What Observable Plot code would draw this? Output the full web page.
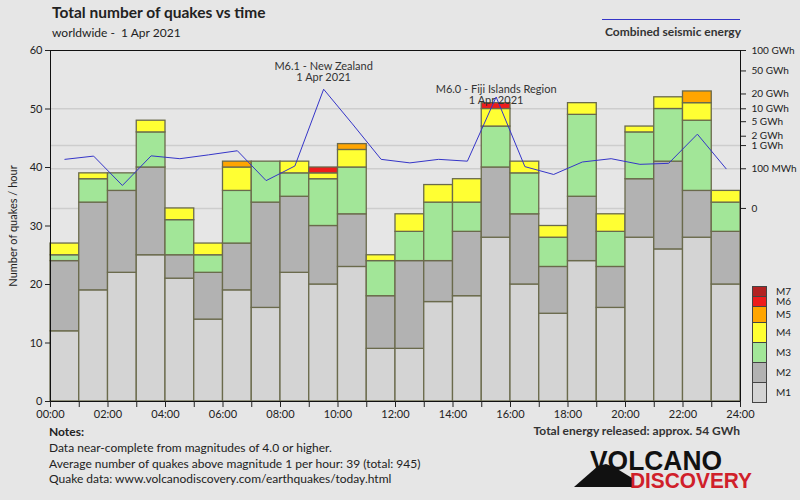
<!DOCTYPE html>
<html><head><meta charset="utf-8">
<script src="https://cdn.jsdelivr.net/npm/d3@7"></script>
<script src="https://cdn.jsdelivr.net/npm/@observablehq/plot@0.6"></script>
<style>
html,body{margin:0;padding:0;background:#e6e6e6;}
#wrap{position:relative;width:800px;height:500px;background:#e6e6e6;font-family:Lato,"Open Sans",sans-serif;color:#222;overflow:hidden;}
#chart{position:absolute;left:0;top:0;}
.abs{position:absolute;white-space:nowrap;}
.sw{position:absolute;left:752px;width:15px;box-sizing:border-box;border:1px solid #444;}
.lg{position:absolute;left:776px;font-size:10px;line-height:10px;}
.rax text{font-size:10px;}
</style></head><body>
<div id="wrap">
  <div id="chart"></div>
  <div class="abs" style="left:52px;top:3px;font-size:15.5px;font-weight:bold;">Total number of quakes vs time</div>
  <div class="abs" style="left:52px;top:25px;font-size:12px;">worldwide -&nbsp; 1 Apr 2021</div>
  <div class="abs" style="left:602px;top:19px;width:138px;height:1px;background:#3535c8;"></div>
  <div class="abs" style="right:59px;top:24px;font-size:12px;font-weight:bold;color:#333;">Combined seismic energy</div>
  <div class="abs" style="left:49px;top:424px;font-size:12px;line-height:15.8px;">
    <b>Notes:</b><br>
    Data near-complete from magnitudes of 4.0 or higher.<br>
    Average number of quakes above magnitude 1 per hour: 39 (total: 945)<br>
    Quake data: www.volcanodiscovery.com/earthquakes/today.html
  </div>
  <div class="abs" style="right:60px;top:423px;font-size:12px;font-weight:bold;color:#333;">Total energy released: approx. 54 GWh</div>
  <div id="legend"></div>
  <svg class="abs" style="left:570px;top:445px;" width="190" height="50">
    <polygon points="4,42 28,21 36,19 44,22 62,33 62,42" fill="#111"/>
    <text x="20" y="25" font-family="Liberation Sans, Arial, sans-serif" font-weight="bold" font-size="27" fill="#111" textLength="132" lengthAdjust="spacingAndGlyphs">VOLCANO</text>
    <text x="60" y="43" font-family="Liberation Sans, Arial, sans-serif" font-weight="bold" font-size="22" fill="#d0202a" textLength="122" lengthAdjust="spacingAndGlyphs">DISCOVERY</text>
  </svg>
</div>
<script>
// ---- data ----
const hours = d3.range(24);
const mags = ["M1","M2","M3","M4","M5","M6","M7"];
const magColors = ["#d4d4d4","#b2b2b2","#a2e698","#ffff33","#ffa500","#ee1c1c","#b22222"];
const m1 = [12,19,22,25,21,14,19,16,22,20,23,9,9,17,18,28,20,15,24,16,28,26,28,20];
const m2 = [12,15,14,15,4,8,8,18,13,10,9,9,15,7,11,12,12,8,11,7,10,15,8,9];
const m3 = [1,4,3,6,6,3,9,7,4,8,8,6,5,10,5,7,7,5,14,6,8,9,12,5];
const m4 = [2,1,0,2,2,2,4,0,2,1,3,1,3,3,4,3,2,2,2,3,1,2,3,2];
const m5 = [0,0,0,0,0,0,1,0,0,0,1,0,0,0,0,0,0,0,0,0,0,0,2,0];
const m6 = [0,0,0,0,0,0,0,0,0,1,0,0,0,0,0,1,0,0,0,0,0,0,0,0];
const m7 = [0,0,0,0,0,0,0,0,0,0,0,0,0,0,0,0,0,0,0,0,0,0,0,0];
// combined seismic energy per hour, GWh
const energy = [0.29,0.40,0.0065,0.41,0.31,0.45,0.65,0.017,0.14,24.5,4.4,0.29,0.20,0.29,0.24,17.5,0.13,0.046,0.22,0.31,0.17,0.19,2.3,0.10];
const energyTicks = [100,50,20,10,5,2,1,0.1,0];
const energyTickLabels = ["100 GWh","50 GWh","20 GWh","10 GWh","5 GWh","2 GWh","1 GWh","100 MWh","0"];
const energyGrid = [10,1,0.1,0];
const yTicks = [0,10,20,30,40,50,60];
const xTicks = d3.range(0,25);
const annotations = [
  {h:9, e:24.5, text:"M6.1 - New Zealand\n1 Apr 2021"},
  {h:15, e:17.5, text:"M6.0 - Fiji Islands Region\n1 Apr 2021"}
];

// ---- derived tables ----
const series = [m1,m2,m3,m4,m5,m6,m7];
const rows = [];
hours.forEach((h,i)=>{
  let acc = 0;
  series.forEach((s,k)=>{
    const v = s[i];
    if (v > 0) { rows.push({h, mag:mags[k], y1:acc, y2:acc+v}); acc += v; }
  });
});
// energy axis occupies the upper part of the count axis (pow 1/5 scale)
const E = d3.scalePow().exponent(0.2).domain([0,100]).range([33,60]);
const energyRows = hours.map((h,i)=>({h, e:energy[i]}));
const tickMap = new Map(energyTicks.map((e,i)=>[E(e), energyTickLabels[i]]));

const chart = Plot.plot({
  width:800, height:500,
  marginLeft:50, marginRight:60, marginTop:50, marginBottom:99,
  x:{domain:[0,24]},
  y:{domain:[0,60]},
  color:{domain:mags, range:magColors},
  style:{background:"transparent", fontFamily:"Lato, 'Open Sans', sans-serif", fontSize:"11px", color:"#222"},
  marks:[
    Plot.ruleY(energyGrid, {y: d=>E(d), stroke:"#cdcdcd", strokeWidth:1.5}),
    Plot.rect(rows, {x1:"h", x2:d=>d.h+1, y1:"y1", y2:"y2", fill:"mag", stroke:"#6a6a4c", strokeWidth:1.3}),
    Plot.line(energyRows, {x:d=>d.h+0.5, y:d=>E(d.e), stroke:"#3535c8", strokeWidth:1}),
    Plot.text(annotations.filter(d=>d.h===9), {x:d=>d.h+0.5, y:d=>E(d.e), text:"text", lineAnchor:"bottom", dy:-8, fill:"#333", fontSize:11}),
    Plot.text(annotations.filter(d=>d.h===15), {x:d=>d.h+0.5, y:d=>E(d.e), text:"text", lineAnchor:"middle", dy:-2, fill:"#333", fontSize:11}),
    Plot.ruleX([0,24], {stroke:"#111"}),
    Plot.ruleY([0,60], {stroke:"#111"}),
    Plot.axisX({ticks:xTicks, tickSize:6, tickPadding:3, tickFormat:d=> d%2 ? "" : String(d).padStart(2,"0")+":00", label:null}),
    Plot.axisY({ticks:yTicks, tickSize:5, tickPadding:3, label:"Number of quakes / hour", labelAnchor:"center", labelOffset:41, labelArrow:"none"}),
    Plot.axisY(energyTicks.map(e=>E(e)), {anchor:"right", tickSize:5, tickPadding:6, fontSize:10, className:"rax", tickFormat:v=>tickMap.get(v), label:null})
  ]
});
document.getElementById("chart").appendChild(chart);

// ---- magnitude legend ----
const legendHeights = [10,10,16,20,20,20,20];
const legendBox = document.getElementById("legend");
let yPos = 286;
for (let k = mags.length-1; k >= 0; k--) {
  const hgt = legendHeights[mags.length-1-k];
  const sw = document.createElement("div");
  sw.className = "sw";
  sw.style.top = yPos+"px"; sw.style.height = (hgt+1)+"px"; sw.style.background = magColors[k];
  legendBox.appendChild(sw);
  const lb = document.createElement("div");
  lb.className = "lg";
  lb.style.top = (yPos + hgt/2 - 5)+"px";
  lb.textContent = mags[k];
  legendBox.appendChild(lb);
  yPos += hgt;
}
</script>
</body></html>
